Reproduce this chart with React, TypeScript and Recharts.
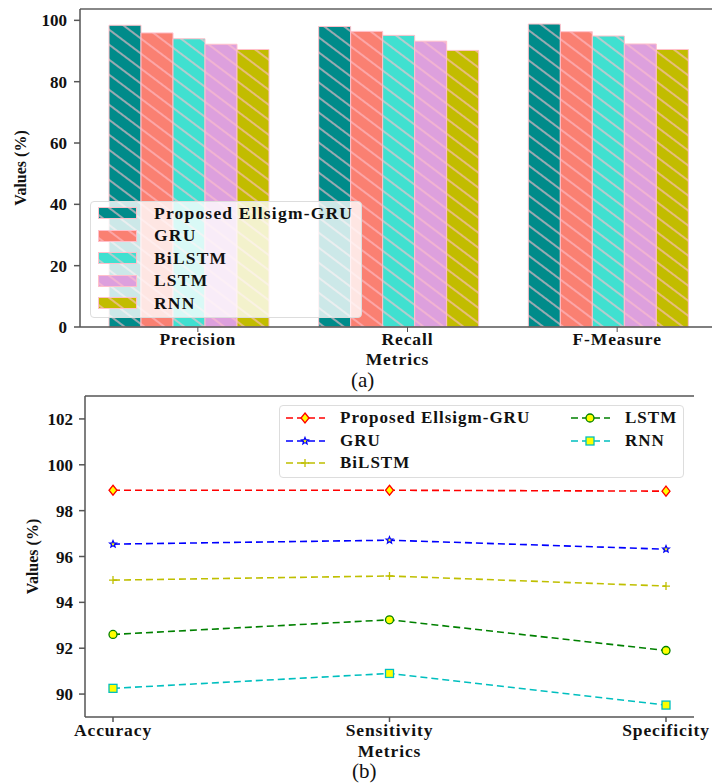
import React from 'react';
import { BarChart, Bar, LineChart, Line, XAxis, YAxis, Legend, ReferenceLine } from 'recharts';

// ---- (a) bar chart data ----
const metricsA = ['Precision', 'Recall', 'F-Measure'];
const proposedA = [98.4, 98.0, 98.8];
const gruA = [95.9, 96.4, 96.3];
const bilstmA = [94.0, 95.1, 94.9];
const lstmA = [92.2, 93.2, 92.3];
const rnnA = [90.5, 90.2, 90.5];

// ---- (b) line chart data ----
const metricsB = ['Accuracy', 'Sensitivity', 'Specificity'];
const proposedB = [98.89, 98.89, 98.85];
const gruB = [96.54, 96.71, 96.32];
const bilstmB = [94.97, 95.15, 94.71];
const lstmB = [92.6, 93.24, 91.9];
const rnnB = [90.25, 90.9, 89.52];

const modelNames = ['Proposed Ellsigm-GRU', 'GRU', 'BiLSTM', 'LSTM', 'RNN'];
const seriesKeys = ['p', 'g', 'b', 'l', 'r'];
const barColors = ['#008B8A', '#FA8072', '#40E0D0', '#DDA0DD', '#C2BC00'];
const lineColors = ['#FF0000', '#0000FF', '#BFBF00', '#008000', '#00BFBF'];
const yTicksA = [0, 20, 40, 60, 80, 100];
const yTicksB = [90, 92, 94, 96, 98, 100, 102];

const barData = metricsA.map((m, i) => ({
  metric: m, p: proposedA[i], g: gruA[i], b: bilstmA[i], l: lstmA[i], r: rnnA[i],
}));
const lineData = metricsB.map((m, i) => ({
  metric: m, p: proposedB[i], g: gruB[i], b: bilstmB[i], l: lstmB[i], r: rnnB[i],
}));

const FONT = '"Liberation Serif", "Times New Roman", serif';
const tickStyle = { fontFamily: FONT, fontWeight: 700, fontSize: 17, fill: '#111' };
const xTickStyle = { ...tickStyle, fontSize: 17.5, letterSpacing: 0.9 };
const AXIS = '#555';
const PINK = '#FFC0CB';

const HatchDefs = () => (
  <svg width={0} height={0} style={{ position: 'absolute' }}>
    <defs>
      {barColors.map((c, i) => (
        <pattern key={i} id={`hatch-${i}`} patternUnits="userSpaceOnUse" width={12} height={12}
          patternTransform="rotate(37)">
          <rect width={12} height={12} fill={c} />
          <line x1={0} y1={6} x2={12} y2={6} stroke={PINK} strokeWidth={1.2} />
        </pattern>
      ))}
    </defs>
  </svg>
);

// x tick of the bar chart sits a bit right of the bar group centre
const ShiftedTick = (props: any) => {
  const { x, y, payload } = props;
  return (
    <g transform={`translate(${x + 10},${y})`}>
      <line x1={0} y1={-7} x2={0} y2={-2} stroke={AXIS} />
      <text x={0} y={0} dy={11} textAnchor="middle" style={xTickStyle}>{payload.value}</text>
    </g>
  );
};

const TopLegend = () => (
  <div style={{
    width: 272, height: 117, position: 'relative', background: 'rgba(255,255,255,0.8)',
    border: '1px solid #ddd', borderRadius: 4, boxSizing: 'border-box',
  }}>
    {modelNames.map((n, i) => (
      <div key={n} style={{ position: 'absolute', left: 7, top: 11 + i * 22.5 - 6, height: 12, display: 'flex', alignItems: 'center' }}>
        <svg width={40} height={12}>
          <rect x={0.5} y={0.5} width={38} height={11} fill={`url(#hatch-${i})`} stroke={PINK} />
        </svg>
        <span style={{ marginLeft: 16, fontFamily: FONT, fontWeight: 700, fontSize: 17.5, letterSpacing: 1.2, whiteSpace: 'nowrap', color: '#111' }}>{n}</span>
      </div>
    ))}
  </div>
);

const Marker = ({ kind, cx, cy, color }: { kind: number; cx: number; cy: number; color: string }) => {
  if (kind === 0) {
    return <path d={`M${cx},${cy - 5} L${cx + 4},${cy} L${cx},${cy + 5} L${cx - 4},${cy} Z`} fill="#FFFF00" stroke={color} strokeWidth={1.3} />;
  }
  if (kind === 1) {
    const pts: string[] = [];
    for (let k = 0; k < 10; k++) {
      const r = k % 2 === 0 ? 3.6 : 1.6;
      const a = -Math.PI / 2 + (k * Math.PI) / 5;
      pts.push(`${cx + r * Math.cos(a)},${cy + r * Math.sin(a)}`);
    }
    return <polygon points={pts.join(' ')} fill="#FFFF00" stroke={color} strokeWidth={1.2} />;
  }
  if (kind === 2) {
    return <path d={`M${cx - 4},${cy} L${cx + 4},${cy} M${cx},${cy - 4} L${cx},${cy + 4}`} stroke={color} strokeWidth={1.3} />;
  }
  if (kind === 3) {
    return <circle cx={cx} cy={cy} r={4} fill="#FFFF00" stroke={color} strokeWidth={1.3} />;
  }
  return <rect x={cx - 4} y={cy - 4} width={8} height={8} fill="#FFFF00" stroke={color} strokeWidth={1.3} />;
};

const BottomLegend = () => {
  const pos = [
    { l: 6, t: 11.7 }, { l: 6, t: 35 }, { l: 6, t: 56.7 }, { l: 291, t: 11.7 }, { l: 291, t: 35 },
  ];
  return (
    <div style={{
      width: 405, height: 73, position: 'relative', background: 'rgba(255,255,255,0.8)',
      border: '1px solid #ddd', borderRadius: 4, boxSizing: 'border-box',
    }}>
      {modelNames.map((n, i) => (
        <div key={n} style={{ position: 'absolute', left: pos[i].l, top: pos[i].t - 8, height: 16, display: 'flex', alignItems: 'center' }}>
          <svg width={40} height={16}>
            <line x1={0} y1={8} x2={39} y2={8} stroke={lineColors[i]} strokeWidth={1.5} strokeDasharray="7 4" />
            <Marker kind={i} cx={19} cy={8} color={lineColors[i]} />
          </svg>
          <span style={{ marginLeft: 14, fontFamily: FONT, fontWeight: 700, fontSize: 17, letterSpacing: 1.0, whiteSpace: 'nowrap', color: '#111' }}>{n}</span>
        </div>
      ))}
    </div>
  );
};

export default function App() {
  return (
    <div style={{ position: 'absolute', left: 0, top: 0, width: 712, height: 783, overflow: 'hidden', background: '#fff' }}>
      <HatchDefs />
      <div style={{ position: 'absolute', left: 0, top: 0 }}>
        <BarChart width={740} height={390} data={barData} margin={{ top: 9, right: 25, left: 20, bottom: 23 }}
          barCategoryGap={26} barGap={0}>
          <XAxis dataKey="metric" height={40} tick={<ShiftedTick />} tickLine={false} tickSize={5} tickMargin={2}
            stroke={AXIS} strokeWidth={1.5} padding={{ left: 3, right: 3 }}
            label={{ value: 'Metrics', position: 'insideBottom', offset: 2, style: xTickStyle }} />
          <YAxis width={60} domain={[0, 103.7]} ticks={yTicksA} tick={tickStyle} tickSize={6} tickMargin={7}
            stroke={AXIS} strokeWidth={1.5}
            label={{ value: 'Values (%)', angle: -90, position: 'insideLeft', offset: 0, style: { ...tickStyle, fontSize: 16, textAnchor: 'middle' } }} />
          <ReferenceLine y={103.7} stroke="#888" strokeWidth={2} ifOverflow="visible" />
          {seriesKeys.map((k, i) => (
            <Bar key={k} dataKey={k} name={modelNames[i]} fill={`url(#hatch-${i})`} stroke={PINK} strokeWidth={1}
              isAnimationActive={false} />
          ))}
          <Legend layout="horizontal" verticalAlign="middle" align="center" content={() => <TopLegend />}
            wrapperStyle={{ left: 90, top: 201, width: 272, height: 117 }} />
        </BarChart>
      </div>
      <div style={{ position: 'absolute', left: 351, top: 368, fontFamily: FONT, fontSize: 21, color: '#111' }}>(a)</div>

      <div style={{ position: 'absolute', left: 0, top: 390 }}>
        <LineChart width={712} height={393} data={lineData} margin={{ top: 6, right: 18, left: 25, bottom: 24 }}>
          <XAxis dataKey="metric" height={42} padding={{ left: 28, right: 28 }} tick={xTickStyle} tickSize={5}
            tickMargin={2} stroke={AXIS} strokeWidth={1.5}
            label={{ value: 'Metrics', position: 'insideBottom', offset: 2, style: xTickStyle }} />
          <YAxis width={60} domain={[89, 103]} ticks={yTicksB} tick={tickStyle} tickSize={6} tickMargin={6}
            stroke={AXIS} strokeWidth={1.5} allowDataOverflow
            label={{ value: 'Values (%)', angle: -90, position: 'insideLeft', offset: 7, style: { ...tickStyle, fontSize: 16, textAnchor: 'middle' } }} />
          <YAxis yAxisId="right" orientation="right" width={0} domain={[89, 103]} tick={false} tickLine={false}
            stroke={AXIS} strokeWidth={1.5} />
          <ReferenceLine y={103} stroke={AXIS} strokeWidth={1.5} ifOverflow="visible" />
          {seriesKeys.map((k, i) => (
            <Line key={k} dataKey={k} name={modelNames[i]} stroke={lineColors[i]} strokeWidth={1.6}
              strokeDasharray="7 4" isAnimationActive={false}
              dot={(p: any) => <Marker key={`${k}-${p.index}`} kind={i} cx={p.cx} cy={p.cy} color={lineColors[i]} />} />
          ))}
          <Legend layout="horizontal" verticalAlign="middle" align="center" content={() => <BottomLegend />}
            wrapperStyle={{ left: 279, top: 15, width: 405, height: 73 }} />
        </LineChart>
      </div>
      <div style={{ position: 'absolute', left: 352, top: 759, fontFamily: FONT, fontSize: 21, color: '#111' }}>(b)</div>
    </div>
  );
}
